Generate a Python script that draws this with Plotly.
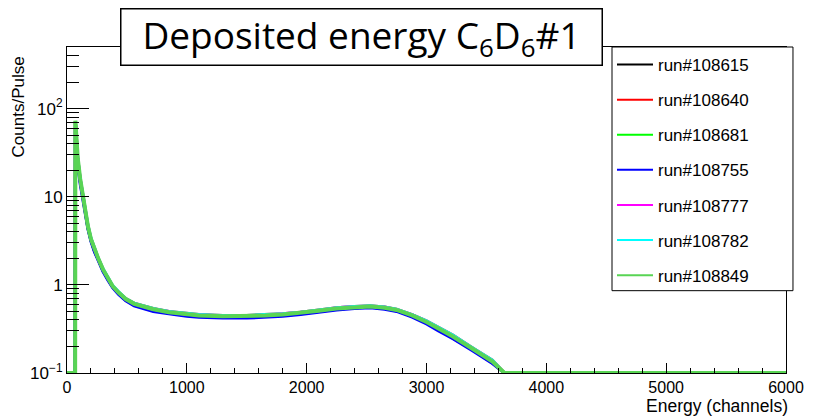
import plotly.graph_objects as go

channels = [0, 68, 70, 90, 110, 130, 150, 175, 200, 230, 260, 300, 340, 380, 430, 490, 560, 630, 720, 850,
            1000, 1100, 1300, 1500, 1650, 1800, 1950, 2100, 2250, 2400, 2530, 2650, 2750, 2880, 3000, 3100,
            3220, 3380, 3550, 3650, 3700, 6000]

run_108615 = [0.1, 0.1, 70, 25, 15, 10, 6.7, 4.4, 3.2, 2.4, 1.95, 1.45, 1.17, 0.95, 0.8, 0.67, 0.59, 0.55, 0.51, 0.48,
              0.45, 0.44, 0.43, 0.43, 0.44, 0.45, 0.47, 0.50, 0.53, 0.55, 0.56, 0.54, 0.51, 0.44, 0.37, 0.31,
              0.25, 0.185, 0.13, 0.1, 0.1, 0.1]
run_108640 = [0.1, 0.1, 72, 27, 16, 10.6, 7.1, 4.7, 3.35, 2.55, 2.02, 1.52, 1.22, 0.98, 0.83, 0.70, 0.62, 0.58, 0.54, 0.50,
              0.47, 0.46, 0.45, 0.45, 0.46, 0.47, 0.49, 0.52, 0.55, 0.57, 0.58, 0.56, 0.53, 0.46, 0.39, 0.33,
              0.27, 0.195, 0.14, 0.1, 0.1, 0.1]
run_108681 = [0.1, 0.1, 71, 26, 15.5, 10.3, 6.9, 4.5, 3.25, 2.45, 1.98, 1.48, 1.19, 0.96, 0.81, 0.68, 0.60, 0.56, 0.52, 0.49,
              0.46, 0.45, 0.44, 0.44, 0.45, 0.46, 0.48, 0.51, 0.54, 0.56, 0.57, 0.55, 0.52, 0.45, 0.38, 0.32,
              0.26, 0.19, 0.135, 0.1, 0.1, 0.1]
run_108755 = [0.1, 0.1, 60, 22, 14, 9.5, 6.4, 4.3, 3.1, 2.35, 1.9, 1.42, 1.14, 0.93, 0.78, 0.66, 0.58, 0.54, 0.50, 0.47,
              0.44, 0.43, 0.42, 0.42, 0.43, 0.44, 0.46, 0.49, 0.52, 0.54, 0.55, 0.53, 0.50, 0.43, 0.36, 0.30,
              0.245, 0.18, 0.128, 0.1, 0.1, 0.1]
run_108777 = [0.1, 0.1, 71, 26.5, 15.8, 10.5, 7.0, 4.65, 3.3, 2.5, 2.0, 1.5, 1.21, 0.97, 0.82, 0.69, 0.61, 0.57, 0.53, 0.50,
              0.46, 0.46, 0.44, 0.45, 0.45, 0.47, 0.49, 0.51, 0.55, 0.57, 0.57, 0.56, 0.52, 0.46, 0.385, 0.325,
              0.265, 0.19, 0.137, 0.1, 0.1, 0.1]
run_108782 = [0.1, 0.1, 72, 27.5, 16.2, 10.7, 7.2, 4.75, 3.4, 2.55, 2.03, 1.53, 1.23, 0.99, 0.84, 0.70, 0.62, 0.58, 0.54, 0.50,
              0.47, 0.46, 0.45, 0.45, 0.46, 0.47, 0.49, 0.52, 0.55, 0.57, 0.58, 0.56, 0.53, 0.46, 0.39, 0.33,
              0.27, 0.195, 0.14, 0.1, 0.1, 0.1]
run_108849 = [0.1, 0.1, 73, 27, 16, 10.5, 7, 4.6, 3.3, 2.5, 2.0, 1.5, 1.2, 0.97, 0.82, 0.69, 0.61, 0.57, 0.53, 0.49,
              0.46, 0.45, 0.44, 0.44, 0.45, 0.46, 0.48, 0.51, 0.54, 0.56, 0.57, 0.55, 0.52, 0.45, 0.38, 0.32,
              0.26, 0.19, 0.135, 0.1, 0.1, 0.1]

run_names = ["run#108615", "run#108640", "run#108681", "run#108755", "run#108777", "run#108782", "run#108849"]
run_values = [run_108615, run_108640, run_108681, run_108755, run_108777, run_108782, run_108849]
run_colors = ["#000000", "#ff0000", "#00ff00", "#0000ff", "#ff00ff", "#00ffff", "#59d454"]
run_widths = [3, 3, 3, 3, 3, 3, 4]

y_tickvals = [0.1, 1, 10, 100]
y_ticktext = ["10<sup>−1</sup>", "1", "10", "10<sup>2</sup>"]
y_minorvals = [0.2, 0.3, 0.4, 0.5, 0.6, 0.7, 0.8, 0.9, 2, 3, 4, 5, 6, 7, 8, 9,
               20, 30, 40, 50, 60, 70, 80, 90, 200, 300, 400]

fig = go.Figure()
for name, vals, col, w in zip(run_names, run_values, run_colors, run_widths):
    fig.add_trace(go.Scatter(x=channels, y=vals, mode="lines", name=name, legendgroup=name,
                             showlegend=False, line=dict(color=col, width=w)))
# legend entries drawn with thin lines, as in the reference
for name, col in zip(run_names, run_colors):
    fig.add_trace(go.Scatter(x=[None], y=[None], mode="lines", name=name, legendgroup=name,
                             line=dict(color=col, width=2)))

fig.update_layout(
    width=815, height=416,
    margin=dict(l=67, r=29, t=47, b=43),
    paper_bgcolor="white", plot_bgcolor="white",
    font=dict(family="Liberation Sans", color="black"),
    legend=dict(x=0.758, y=1.0, xanchor="left", yanchor="top",
                borderwidth=0, bgcolor="rgba(0,0,0,0)",
                font=dict(family="Liberation Sans", size=17, color="black"),
                tracegroupgap=10, itemwidth=36),
)

# legend frame (wider than the auto legend box, as in the reference)
fig.add_shape(type="rect", xref="paper", yref="paper", x0=0.758, x1=1.0097, y0=0.2525, y1=1.0,
              line=dict(color="black", width=1), fillcolor="white", layer="above")

fig.update_xaxes(range=[0, 6000], showline=True, linecolor="black", linewidth=1, mirror=True,
                 ticks="inside", ticklen=10, tickcolor="black", dtick=1000, tick0=0,
                 minor=dict(ticks="inside", ticklen=5, dtick=200, tickcolor="black", showgrid=False),
                 showgrid=False, zeroline=False,
                 tickfont=dict(family="Liberation Sans", size=16, color="black"))
fig.update_yaxes(type="log", range=[-1, 2.70], showline=True, linecolor="black", linewidth=1, mirror=True,
                 ticks="inside", ticklen=22, tickcolor="black",
                 tickmode="array", tickvals=y_tickvals, ticktext=y_ticktext,
                 minor=dict(ticks="inside", ticklen=12, tickcolor="black", tickmode="array",
                            tickvals=y_minorvals, showgrid=False),
                 showgrid=False, zeroline=False,
                 tickfont=dict(family="Liberation Sans", size=17, color="black"))

fig.add_annotation(xref="paper", yref="paper", x=0.41, y=1.0316, xanchor="center", yanchor="middle",
                   text="Deposited energy C<sub>6</sub>D<sub>6</sub>#1", showarrow=False,
                   font=dict(family="Open Sans", size=37, color="black"),
                   bgcolor="white", bordercolor="black", borderwidth=1.5, borderpad=0,
                   width=480, height=55)
fig.add_annotation(xref="paper", yref="paper", x=1.0056, y=-0.102, xanchor="right", yanchor="middle",
                   text="Energy (channels)", showarrow=False,
                   font=dict(family="Liberation Sans", size=17.5, color="black"))
fig.add_annotation(xref="paper", yref="paper", x=-0.068, y=0.976, xanchor="center", yanchor="top",
                   text="Counts/Pulse", showarrow=False, textangle=-90,
                   font=dict(family="Liberation Sans", size=17, color="black"))

fig.write_html("out.html")
